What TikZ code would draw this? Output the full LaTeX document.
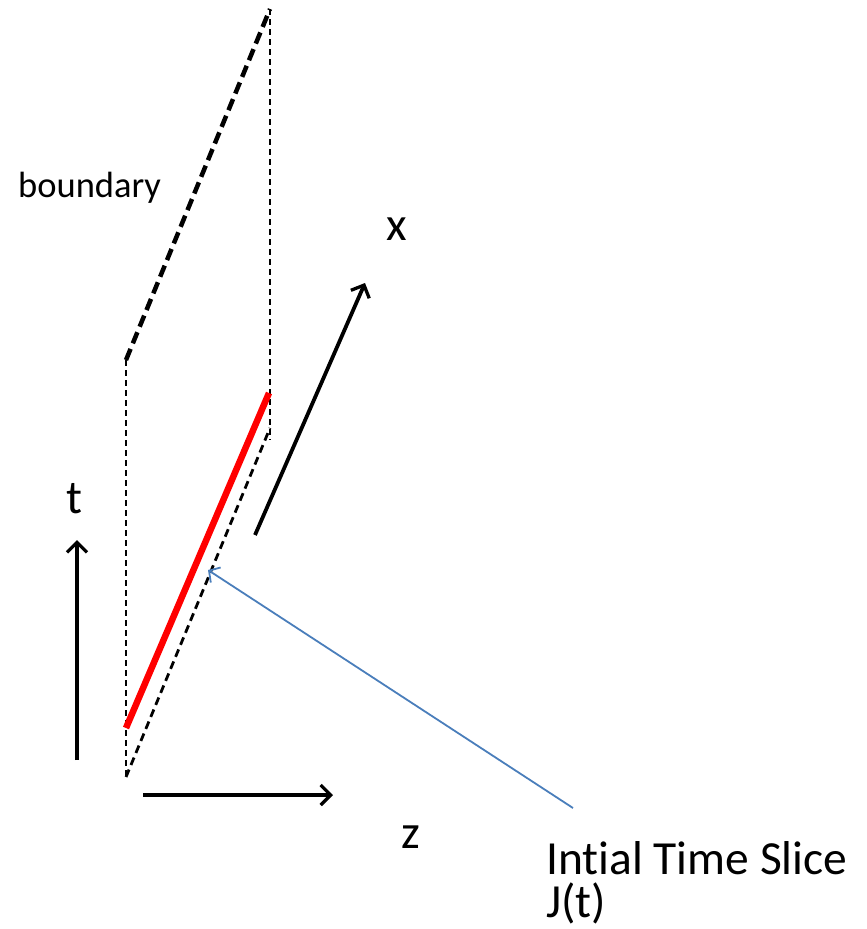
\documentclass[tikz,border=0pt]{standalone}
\usepackage{fontspec}
\setmainfont{Carlito}[Ligatures=NoCommon]
\usetikzlibrary{arrows.meta}
\definecolor{officeblue}{HTML}{4A7EBB}
\definecolor{slicered}{HTML}{FF0000}
\tikzset{
  lbl/.style={inner sep=0pt, anchor=base west, font=\fontsize{47.5}{56}\selectfont},
  topedge/.style={line width=4.5pt, dash pattern=on 12pt off 6pt},
  vedge/.style={line width=2.3pt, dash pattern=on 6pt off 4pt},
  lowedge/.style={line width=2.8pt, dash pattern=on 8pt off 5pt},
  axis/.style={line width=3.8pt, -{Straight Barb[length=10pt,width=20pt,line width=3.3pt]}},
  pointer/.style={officeblue, line width=1.8pt, -{Straight Barb[length=8pt,width=18pt,line width=1.8pt]}},
}
\begin{document}
\begin{tikzpicture}[x=1pt,y=-1pt]
\useasboundingbox (0,0) rectangle (867,929);
\coordinate (A) at (126,360);
\coordinate (B) at (270,9);
\coordinate (C) at (126,777);
\coordinate (D) at (270,428);
\coordinate (Bb) at (270,440);
\coordinate (R1) at (126,728);
\coordinate (R2) at (269,393);
\coordinate (xs) at (255,535);
\coordinate (xe) at (365,283);
\coordinate (ts) at (77,760);
\coordinate (te) at (77,540);
\coordinate (zs) at (143,795);
\coordinate (ze) at (333,795);
\coordinate (ps) at (573,808);
\coordinate (pe) at (208,570);
\draw[topedge] (A) -- (B);
\draw[vedge] (B) -- (Bb);
\draw[vedge] (A) -- (C);
\draw[lowedge] (C) -- (D);
\draw[slicered, line width=6.5pt] (R1) -- (R2);
\draw[axis] (xs) -- (xe);
\draw[axis] (ts) -- (te);
\draw[axis] (zs) -- (ze);
\draw[pointer] (ps) -- (pe);
\node[lbl, font=\fontsize{36.5}{43}\selectfont] (bnd) at (18,197) {boundary};
\node[lbl] (xl) at (386,240) {x};
\node[lbl] (tl) at (66,513) {t};
\node[lbl] (zl) at (401,848) {z};
\node[lbl] (its) at (546,874) {Intial Time Slice};
\node[lbl] (jt) at (546,917) {J(t)};
\end{tikzpicture}
\end{document}
